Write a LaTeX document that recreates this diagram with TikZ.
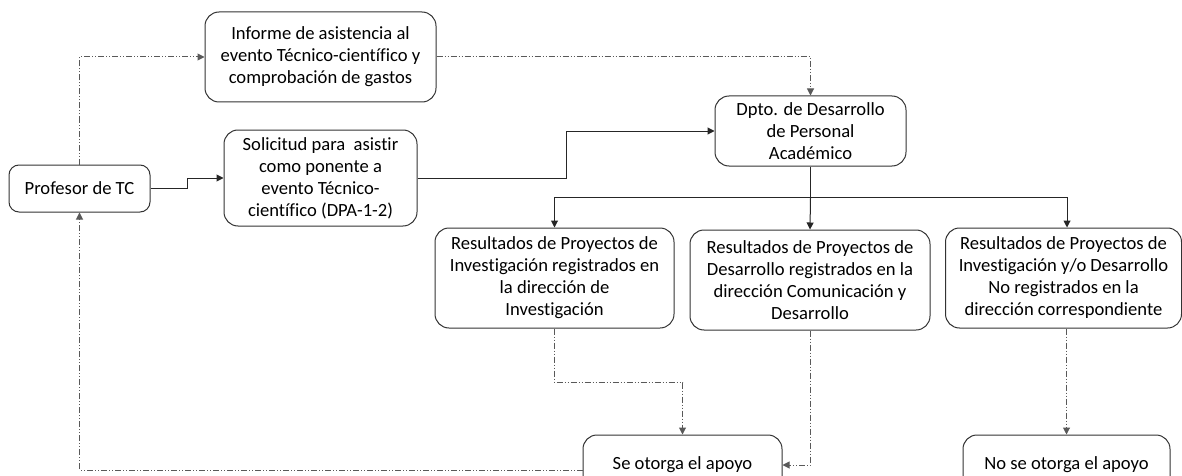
\documentclass[tikz,border=0pt]{standalone}
\usepackage{fontspec}
\setmainfont{Carlito}[Ligatures=NoCommon]
\usetikzlibrary{arrows.meta}
\begin{document}
\begin{tikzpicture}[x=1pt,y=-1pt,
    caja/.style={draw=black!80, line width=1pt, rounded corners=14pt, align=center,
        font=\fontsize{18.6}{22}\selectfont, inner sep=0pt},
    flecha/.style={draw=black!85, line width=1pt, -{Triangle[width=7pt,length=7pt]}},
    punteada/.style={flecha, draw=black!65, dash pattern=on 6pt off 2pt on 1pt off 2pt on 1pt off 2pt}]
    \useasboundingbox (0,0) rectangle (1182,476);
    \clip (0,0) rectangle (1182,476);
    % cajas
    \node[caja, minimum width=231, minimum height=90] (inf) at (320.5,57)
        {Informe de asistencia al\\evento Técnico-científico y\\comprobación de gastos};
    \node[caja, minimum width=141, minimum height=47, rounded corners=10pt] (prof) at (79.5,188.5) {Profesor de TC};
    \node[caja, minimum width=193, minimum height=96] (sol) at (320.5,178)
        {Solicitud para~ asistir\\como ponente a\\evento Técnico-\\científico (DPA-1-2)};
    \node[caja, minimum width=191, minimum height=70] (dpto) at (810.5,131)
        {Dpto. de Desarrollo\\de Personal\\Académico};
    \node[caja, minimum width=239, minimum height=100] (res1) at (554.5,278)
        {Resultados de Proyectos de\\Investigación registrados en\\la dirección de\\Investigación};
    \node[caja, minimum width=240, minimum height=100] (res2) at (810,280)
        {Resultados de Proyectos de\\Desarrollo registrados en la\\dirección Comunicación y\\Desarrollo};
    \node[caja, minimum width=236, minimum height=100] (res3) at (1063.5,278)
        {Resultados de Proyectos de\\Investigación y/o Desarrollo\\No registrados en la\\dirección correspondiente};
    \node[caja, minimum width=199, minimum height=60] (se) at (682.5,465) {Se otorga el apoyo};
    \node[caja, minimum width=207, minimum height=60] (no) at (1066.5,465) {No se otorga el apoyo};
    % conectores
    \draw[flecha] (prof.east) -- ++(37,0) |- (sol.west);
    \draw[flecha] (sol.east) -- ++(149,0) |- (dpto.west);
    \draw[punteada] (prof.north) |- (inf.west);
    \draw[punteada] (inf.east) -| (dpto.north);
    \coordinate (div) at ([yshift=-31pt]dpto.south);
    \draw[flecha] (dpto.south) -- (div) -| (res1.north);
    \draw[flecha] (div) -- (res2.north);
    \draw[flecha] (div) -| ([xshift=3.5pt]res3.north);
    \draw[punteada] (res1.south) -- ++(0,54) -| (se.north);
    \draw[punteada] (res2.south) |- (se.east);
    \draw[punteada] ([xshift=3pt]res3.south) -- ([xshift=3pt]res3.south |- no.north);
    \draw[punteada] ([yshift=-5pt]se.west) -| (prof.south);
\end{tikzpicture}
\end{document}
